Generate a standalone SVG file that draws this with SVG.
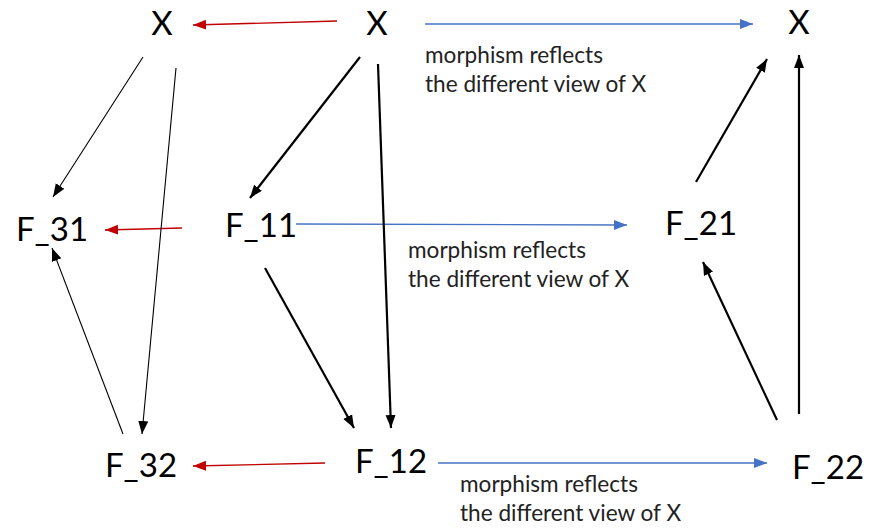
<svg xmlns="http://www.w3.org/2000/svg" width="871" height="530" viewBox="0 0 871 530">
<style>
.node{font-family:Lato,"Open Sans","Liberation Sans",sans-serif;font-size:33px;fill:#000;text-anchor:middle}
.lbl{font-family:Lato,"Open Sans","Liberation Sans",sans-serif;font-size:22.6px;fill:#222}
.red{stroke:#C00000;stroke-width:1.3;fill:none}
.blue{stroke:#4472C4;stroke-width:1.3;fill:none}
.thin{stroke:#000;stroke-width:1.1;fill:none}
.thick{stroke:#000;stroke-width:2.2;fill:none}
</style>
<defs>
<marker id="mr" markerUnits="userSpaceOnUse" markerWidth="14" markerHeight="12" refX="13" refY="5" orient="auto"><path d="M0,0 L13,5 L0,10 z" fill="#C00000"/></marker>
<marker id="mb" markerUnits="userSpaceOnUse" markerWidth="14" markerHeight="12" refX="13" refY="5" orient="auto"><path d="M0,0 L13,5 L0,10 z" fill="#4472C4"/></marker>
<marker id="mk" markerUnits="userSpaceOnUse" markerWidth="14" markerHeight="12" refX="13" refY="5" orient="auto"><path d="M0,0 L13,5 L0,10 z" fill="#000"/></marker>
</defs>
<rect width="871" height="530" fill="#fff"/>
<g id="connectors">
<line class="red" x1="337" y1="21" x2="193" y2="25" marker-end="url(#mr)"/>
<line class="red" x1="182" y1="228" x2="105" y2="230" marker-end="url(#mr)"/>
<line class="red" x1="325" y1="463" x2="193" y2="466" marker-end="url(#mr)"/>
<line class="blue" x1="425" y1="24" x2="753" y2="24" marker-end="url(#mb)"/>
<line class="blue" x1="296" y1="224" x2="627" y2="225" marker-end="url(#mb)"/>
<line class="blue" x1="438" y1="463" x2="767" y2="463" marker-end="url(#mb)"/>
<line class="thin" x1="143" y1="57" x2="53" y2="197" marker-end="url(#mk)"/>
<line class="thin" x1="176" y1="68" x2="142" y2="434" marker-end="url(#mk)"/>
<line class="thin" x1="123" y1="434" x2="52" y2="248" marker-end="url(#mk)"/>
<line class="thick" x1="360" y1="57" x2="250" y2="198" marker-end="url(#mk)"/>
<line class="thick" x1="378" y1="64" x2="391" y2="428" marker-end="url(#mk)"/>
<line class="thick" x1="265" y1="268" x2="354" y2="428" marker-end="url(#mk)"/>
<line class="thick" x1="777" y1="420" x2="703" y2="262" marker-end="url(#mk)"/>
<line class="thick" x1="799" y1="414" x2="799" y2="55" marker-end="url(#mk)"/>
<line class="thick" x1="696" y1="182" x2="767" y2="59" marker-end="url(#mk)"/>
</g>
<g id="X_left"><text class="node" x="162" y="35">X</text></g>
<g id="X_mid"><text class="node" x="377" y="35">X</text></g>
<g id="X_right"><text class="node" x="799" y="34">X</text></g>
<g id="F_31"><text class="node" x="52" y="241">F_31</text></g>
<g id="F_11"><text class="node" x="261" y="237">F_11</text></g>
<g id="F_21"><text class="node" x="701" y="235">F_21</text></g>
<g id="F_32"><text class="node" x="141" y="477">F_32</text></g>
<g id="F_12"><text class="node" x="391" y="473">F_12</text></g>
<g id="F_22"><text class="node" x="828" y="479">F_22</text></g>
<g id="labels">
<text class="lbl" x="425" y="63">morphism reflects</text>
<text class="lbl" x="425" y="92">the different view of X</text>
<text class="lbl" x="408" y="258">morphism reflects</text>
<text class="lbl" x="408" y="287">the different view of X</text>
<text class="lbl" x="460" y="492">morphism reflects</text>
<text class="lbl" x="460" y="521">the different view of X</text>
</g>
</svg>
